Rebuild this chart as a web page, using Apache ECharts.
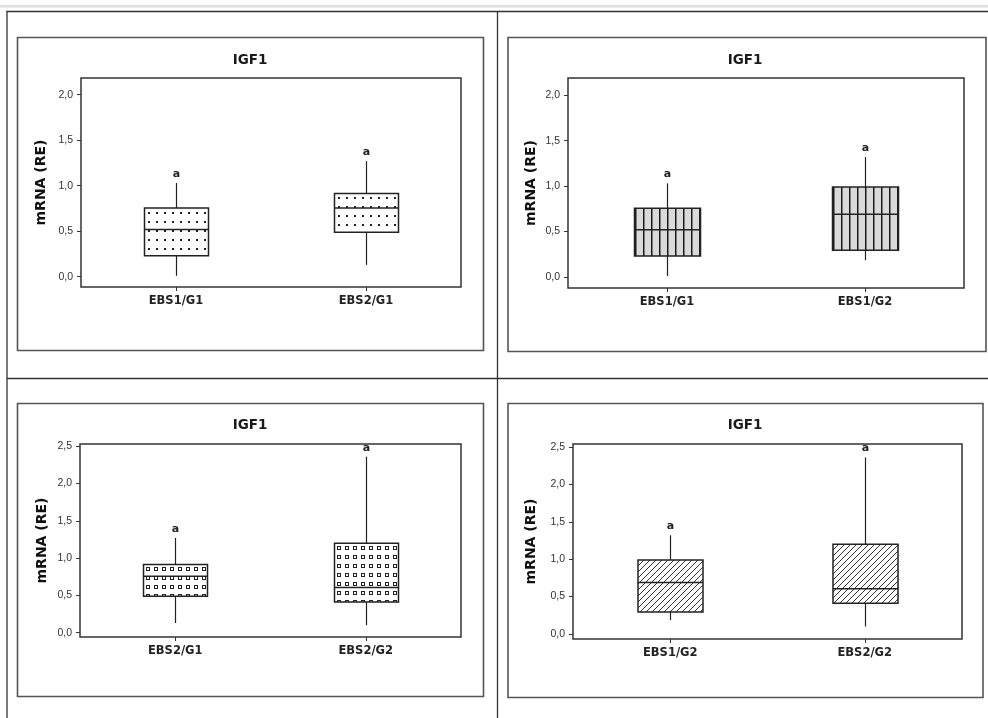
<!DOCTYPE html>
<html><head><meta charset="utf-8">
<script src="https://cdn.jsdelivr.net/npm/echarts@6/dist/echarts.min.js"></script>
<style>html,body{margin:0;padding:0;background:#fff}#c{width:988px;height:718px}</style>
</head><body><div id="c"></div>
<script>
// ---- data ----
const chartTitle = 'IGF1';
const yAxisName = 'mRNA (RE)';
// box statistics: [min, Q1, median, Q3, max]
const EBS1_G1 = [0.01, 0.23, 0.52, 0.755, 1.03];
const EBS2_G1 = [0.13, 0.49, 0.755, 0.915, 1.27];
const EBS1_G2 = [0.185, 0.295, 0.69, 0.99, 1.32];
const EBS2_G2 = [0.10, 0.41, 0.605, 1.20, 2.36];

const panel1Categories = ['EBS1/G1', 'EBS2/G1'];
const panel1Values = [EBS1_G1, EBS2_G1];
const panel1Letters = ['a', 'a'];
const panel2Categories = ['EBS1/G1', 'EBS1/G2'];
const panel2Values = [EBS1_G1, EBS1_G2];
const panel2Letters = ['a', 'a'];
const panel3Categories = ['EBS2/G1', 'EBS2/G2'];
const panel3Values = [EBS2_G1, EBS2_G2];
const panel3Letters = ['a', 'a'];
const panel4Categories = ['EBS1/G2', 'EBS2/G2'];
const panel4Values = [EBS1_G2, EBS2_G2];
const panel4Letters = ['a', 'a'];

const ticksTop = [0, 0.5, 1.0, 1.5, 2.0];
const ticksBottom = [0, 0.5, 1.0, 1.5, 2.0, 2.5];

// ---- fill patterns ----
function tile(w, h, draw) {
  const c = document.createElement('canvas');
  c.width = w; c.height = h;
  const g = c.getContext('2d');
  draw(g, w, h);
  return c;
}
const patDots = tile(8, 9, (g, w, h) => {
  g.fillStyle = '#fff'; g.fillRect(0, 0, w, h);
  g.fillStyle = '#222'; g.fillRect(3, 4, 2, 2);
});
const patVLines = tile(8, 8, (g, w, h) => {
  g.fillStyle = '#d9d9d9'; g.fillRect(0, 0, w, h);
  g.fillStyle = '#1a1a1a'; g.fillRect(0, 0, 1, h);
  g.fillStyle = '#7a7a7a'; g.fillRect(1, 0, 1, h);
});
const patSquares = tile(8, 9, (g, w, h) => {
  g.fillStyle = '#fff'; g.fillRect(0, 0, w, h);
  g.strokeStyle = '#222'; g.lineWidth = 1;
  g.strokeRect(2.5, 3.5, 3, 3);
});
const patHatch = tile(6, 6, (g, w, h) => {
  g.fillStyle = '#fff'; g.fillRect(0, 0, w, h);
  g.strokeStyle = '#333'; g.lineWidth = 1;
  g.beginPath();
  g.moveTo(-1, 7); g.lineTo(7, -1);
  g.moveTo(-1, 1); g.lineTo(1, -1);
  g.moveTo(5, 7); g.lineTo(7, 5);
  g.stroke();
});

// ---- layout ----
const panels = [
  {cats: panel1Categories, vals: panel1Values, letters: panel1Letters, ticks: ticksTop,
   ymin: -0.113, ymax: 2.184, grid: {left: 81, top: 78, width: 380, height: 209},
   pattern: patDots, boxW: 64, nameGap: 33, titleX: 250, titleY: 60},
  {cats: panel2Categories, vals: panel2Values, letters: panel2Letters, ticks: ticksTop,
   ymin: -0.121, ymax: 2.189, grid: {left: 568, top: 78, width: 396, height: 210},
   pattern: patVLines, boxW: 66, nameGap: 30, titleX: 745, titleY: 60},
  {cats: panel3Categories, vals: panel3Values, letters: panel3Letters, ticks: ticksBottom,
   ymin: -0.058, ymax: 2.53, grid: {left: 80, top: 444, width: 381, height: 193},
   pattern: patSquares, boxW: 64, nameGap: 31, titleX: 250, titleY: 425},
  {cats: panel4Categories, vals: panel4Values, letters: panel4Letters, ticks: ticksBottom,
   ymin: -0.067, ymax: 2.54, grid: {left: 573, top: 444, width: 389, height: 195},
   pattern: patHatch, boxW: 65, nameGap: 35, titleX: 745, titleY: 425}
];

const fmt = v => v.toFixed(1).replace('.', ',');

function makeRender(p) {
  return function (params, api) {
    const k = api.value(0);
    const pMin = api.coord([k, api.value(1)]);
    const pQ1 = api.coord([k, api.value(2)]);
    const pMed = api.coord([k, api.value(3)]);
    const pQ3 = api.coord([k, api.value(4)]);
    const pMax = api.coord([k, api.value(5)]);
    const cx = Math.round(pMin[0]) + 0.5;
    const half = p.boxW / 2;
    const left = cx - half;
    const stroke = '#222';
    return {
      type: 'group',
      children: [
        {type: 'line', shape: {x1: cx, y1: pQ1[1], x2: cx, y2: pMin[1]}, style: {stroke: stroke, lineWidth: 1.2}},
        {type: 'line', shape: {x1: cx, y1: pQ3[1], x2: cx, y2: pMax[1]}, style: {stroke: stroke, lineWidth: 1.2}},
        {type: 'rect', shape: {x: left, y: pQ3[1], width: p.boxW, height: pQ1[1] - pQ3[1]},
         style: {fill: {image: p.pattern, repeat: 'repeat', x: Math.round(left), y: Math.round(pQ3[1])}, stroke: stroke, lineWidth: 1.5}},
        {type: 'line', shape: {x1: left, y1: pMed[1], x2: left + p.boxW, y2: pMed[1]}, style: {stroke: stroke, lineWidth: 1.5}},
        {type: 'text', x: cx, y: pMax[1] - 9,
         style: {text: p.letters[k], fill: '#222', fontFamily: 'DejaVu Sans', fontWeight: 'bold', fontSize: 11,
                 align: 'center', verticalAlign: 'middle'}}
      ]
    };
  };
}

const grids = [], xAxes = [], yAxes = [], series = [];
panels.forEach((p, i) => {
  grids.push(Object.assign({show: true, borderColor: '#333', borderWidth: 1.5, backgroundColor: 'transparent'}, p.grid));
  xAxes.push({
    type: 'category', gridIndex: i, data: p.cats, boundaryGap: true, position: 'bottom',
    axisLine: {show: false, onZero: false},
    axisTick: {show: true, alignWithLabel: true, length: 4, lineStyle: {color: '#333'}},
    axisLabel: {margin: 8, color: '#222', fontFamily: 'DejaVu Sans', fontWeight: 'bold', fontSize: 11.5},
    splitLine: {show: false}
  });
  yAxes.push({
    type: 'value', gridIndex: i, min: p.ymin, max: p.ymax, position: 'left',
    name: yAxisName, nameLocation: 'middle', nameGap: p.nameGap,
    nameTextStyle: {fontFamily: 'DejaVu Sans', fontWeight: 'bold', fontSize: 14, color: '#111'},
    axisLine: {show: false, onZero: false},
    axisTick: {show: true, length: 4, customValues: p.ticks, lineStyle: {color: '#333'}},
    axisLabel: {customValues: p.ticks, formatter: fmt, margin: 8, color: '#333',
                fontFamily: 'Liberation Sans', fontSize: 10.5},
    splitLine: {show: false}
  });
  series.push({
    type: 'custom', xAxisIndex: i, yAxisIndex: i, silent: true, clip: false, z: 3,
    data: p.vals.map((v, k) => [k].concat(v)),
    encode: {x: 0, y: [1, 2, 3, 4, 5]},
    renderItem: makeRender(p)
  });
});

const lineStyle = {stroke: '#333', lineWidth: 1.3};
const frameStyle = {fill: 'none', stroke: '#555', lineWidth: 1.6};
const graphic = [
  {type: 'rect', silent: true, shape: {x: 0, y: 5, width: 988, height: 2.5}, style: {fill: '#dedede'}},
  {type: 'line', silent: true, shape: {x1: 6.5, y1: 11.5, x2: 988, y2: 11.5}, style: lineStyle},
  {type: 'line', silent: true, shape: {x1: 7, y1: 11, x2: 7, y2: 718}, style: lineStyle},
  {type: 'line', silent: true, shape: {x1: 497.5, y1: 11, x2: 497.5, y2: 718}, style: lineStyle},
  {type: 'line', silent: true, shape: {x1: 7, y1: 378.5, x2: 988, y2: 378.5}, style: lineStyle},
  {type: 'rect', silent: true, shape: {x: 17.5, y: 37.5, width: 466, height: 313}, style: frameStyle},
  {type: 'rect', silent: true, shape: {x: 508, y: 37.5, width: 478, height: 314}, style: frameStyle},
  {type: 'rect', silent: true, shape: {x: 17.5, y: 403.5, width: 466, height: 293}, style: frameStyle},
  {type: 'rect', silent: true, shape: {x: 508, y: 403.5, width: 475, height: 294}, style: frameStyle}
];
panels.forEach(p => {
  graphic.push({type: 'text', silent: true, x: p.titleX, y: p.titleY,
    style: {text: chartTitle, fill: '#1a1a1a', fontFamily: 'DejaVu Sans', fontWeight: 'bold', fontSize: 13.5,
            align: 'center', verticalAlign: 'middle'}});
});

const chart = echarts.init(document.getElementById('c'), null, {renderer: 'canvas'});
chart.setOption({
  animation: false,
  backgroundColor: '#fff',
  grid: grids, xAxis: xAxes, yAxis: yAxes, series: series, graphic: graphic
});
</script></body></html>
